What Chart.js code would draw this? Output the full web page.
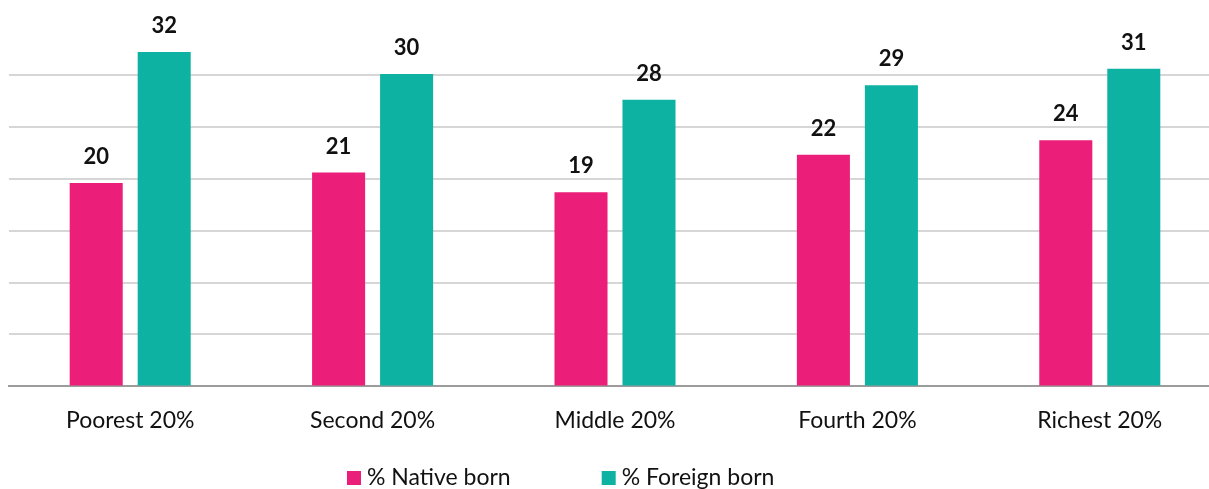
<!DOCTYPE html>
<html>
<head>
<meta charset="utf-8">
<script src="https://cdn.jsdelivr.net/npm/chart.js@4.4.0/dist/chart.umd.min.js"></script>
<style>
  html, body { margin: 0; padding: 0; background: #fff; overflow: hidden; }
  /* plot runs a little past the right edge, as in the original crop */
  #wrap { width: 1221px; height: 489px; position: relative; }
</style>
</head>
<body>
<div id="wrap"><canvas id="bar_chart"></canvas></div>
<script>
// quintiles and shares
const categories = ['Poorest 20%', 'Second 20%', 'Middle 20%', 'Fourth 20%', 'Richest 20%'];
const nativeBorn = [19.6, 20.6, 18.7, 22.3, 23.7];
const foreignBorn = [32.2, 30.1, 27.6, 29.0, 30.6];
const seriesNames = ['% Native born', '% Foreign born'];
const yTicks = [0, 5, 10, 15, 20, 25, 30, 35];

const PINK = '#EB1E79';
const TEAL = '#0DB2A2';
const FONT = 'Lato, "Open Sans", sans-serif';

// value labels above each bar
const valueLabels = {
    id: 'valueLabels',
    afterDatasetsDraw(chart) {
        const ctx = chart.ctx;
        ctx.save();
        ctx.font = 'bold 22px ' + FONT;
        ctx.fillStyle = '#111';
        ctx.textAlign = 'center';
        ctx.textBaseline = 'alphabetic';
        chart.data.datasets.forEach(function (ds, i) {
            chart.getDatasetMeta(i).data.forEach(function (bar, j) {
                ctx.fillText(Math.round(ds.data[j]), bar.x, bar.y - 19);
            });
        });
        ctx.restore();
    }
};

// legend drawn by hand so the wide gap between the two items can be kept
const bottomLegend = {
    id: 'bottomLegend',
    afterDraw(chart) {
        const ctx = chart.ctx;
        ctx.save();
        ctx.font = '23px ' + FONT;
        ctx.textBaseline = 'middle';
        ctx.textAlign = 'left';
        let x = 347;
        const y = 478;
        chart.data.datasets.forEach(function (ds) {
            ctx.fillStyle = ds.backgroundColor;
            ctx.fillRect(x, y - 7, 14, 14);
            ctx.fillStyle = '#111';
            ctx.fillText(ds.label, x + 20, y);
            x += 20 + ctx.measureText(ds.label).width + 91;
        });
        ctx.restore();
    }
};

const CHART = document.getElementById('bar_chart');
let barChart = new Chart(CHART, {
    type: 'bar',
    data: {
        labels: categories,
        datasets: [
            { label: seriesNames[0], data: nativeBorn, backgroundColor: PINK },
            { label: seriesNames[1], data: foreignBorn, backgroundColor: TEAL }
        ]
    },
    options: {
        responsive: true,
        maintainAspectRatio: false,
        animation: false,
        datasets: {
            bar: { categoryPercentage: 0.561, barPercentage: 0.78 }
        },
        layout: { padding: { left: 9, right: 0, top: 23, bottom: 43 } },
        scales: {
            x: {
                grid: { display: false },
                border: { display: true, color: '#9c9c9c', width: 2 },
                ticks: { color: '#111', padding: 12, font: { family: FONT, size: 23 } }
            },
            y: {
                min: 0,
                max: 35,
                afterBuildTicks: function (axis) { axis.ticks = yTicks.map(v => ({ value: v })); },
                ticks: { display: false },
                border: { display: false },
                grid: {
                    drawTicks: false,
                    lineWidth: 2,
                    color: function (c) {
                        return (c.tick.value === 35 || c.tick.value === 0) ? 'rgba(0,0,0,0)' : '#d6d6d6';
                    }
                }
            }
        },
        plugins: {
            tooltip: { enabled: false },
            legend: { display: false }
        }
    },
    plugins: [valueLabels, bottomLegend]
});
</script>
</body>
</html>
